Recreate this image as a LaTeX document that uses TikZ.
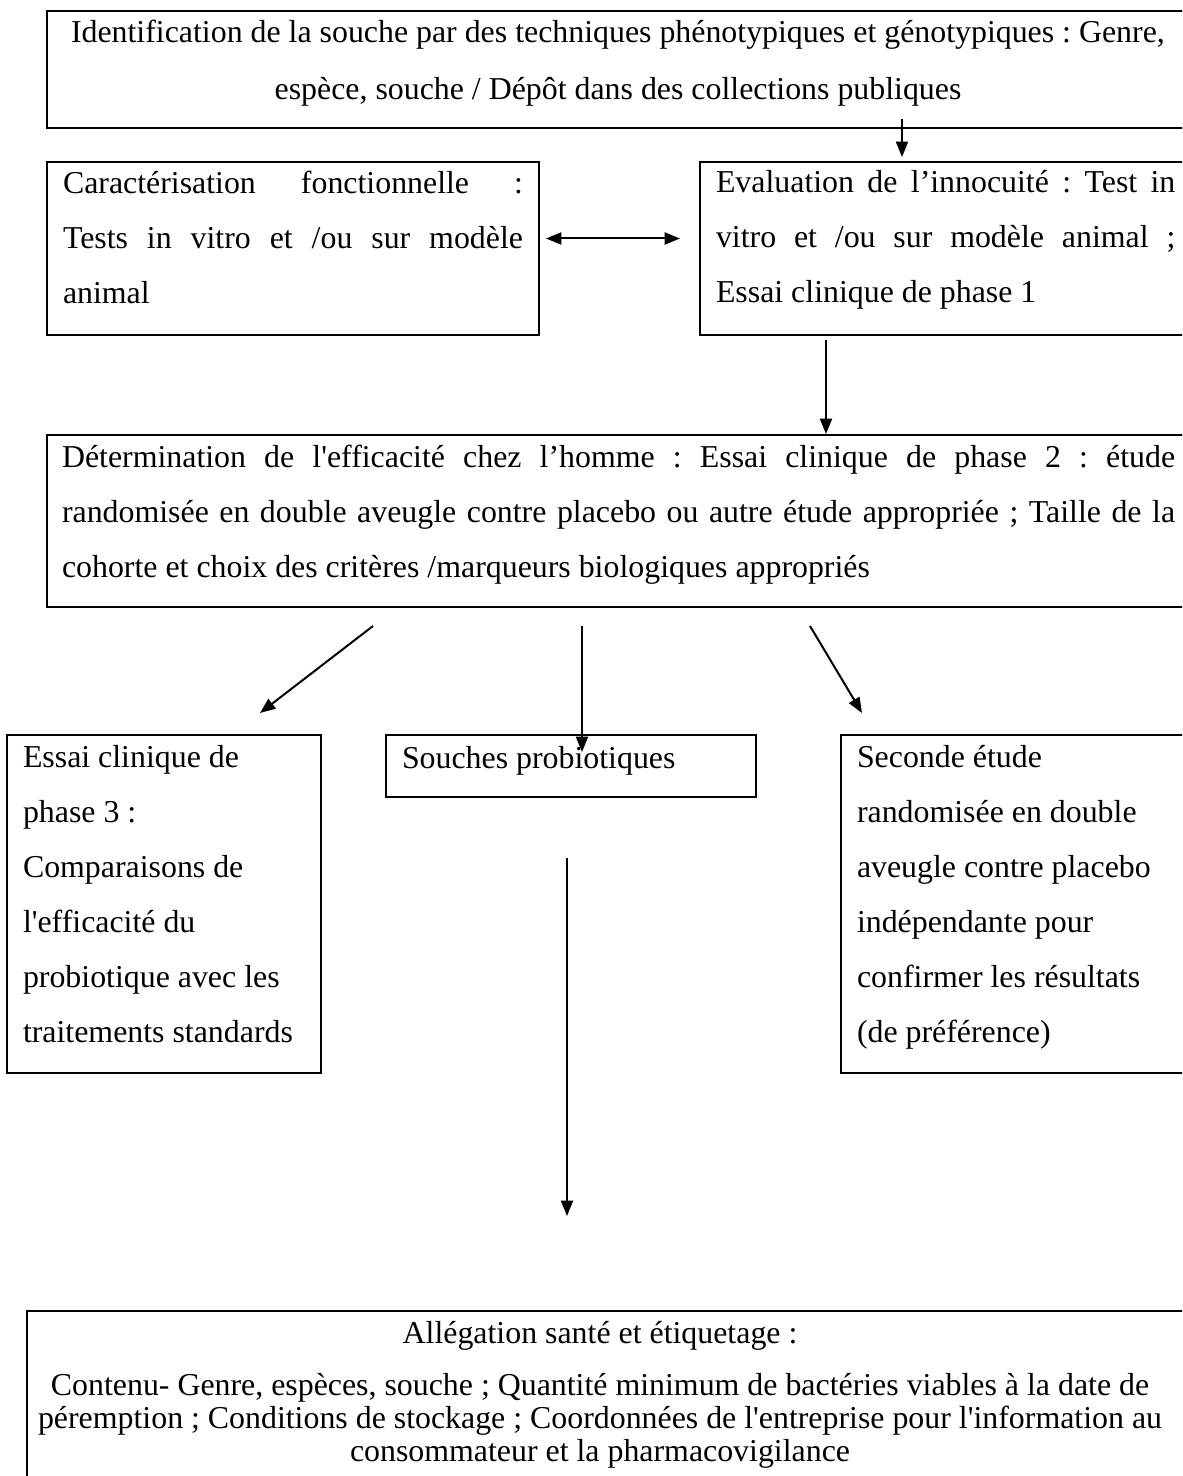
\documentclass[tikz,border=0pt]{standalone}
\usepackage{fontspec}
\setmainfont{Liberation Serif}[Ligatures=TeXOff]
\usetikzlibrary{arrows.meta}
\frenchspacing
\newcommand\fdbl{\fontsize{23.9pt}{41.25pt}\selectfont\frenchspacing}
\newcommand\fid{\fontsize{23.9pt}{42.75pt}\selectfont\frenchspacing}
\newcommand\fsgl{\fontsize{23.9pt}{24.75pt}\selectfont\frenchspacing}
\newcommand\jline[1]{\makebox[\linewidth][s]{#1}}
\tikzset{
  boxnode/.style 2 args={draw, line width=1.6pt, outer sep=0pt, inner sep=0pt, anchor=north west,
     minimum width=#1*0.75pt, minimum height=#2*0.75pt},
  txt/.style={inner sep=0pt, outer sep=0pt, anchor=base west, font=\fdbl},
  arr/.style={line width=1.5pt, -{Triangle[length=11.5pt,width=9pt]}},
  dblarr/.style={line width=1.5pt, {Triangle[length=11.5pt,width=9pt]}-{Triangle[length=11.5pt,width=9pt]}}
}
\begin{document}
\begin{tikzpicture}[x=0.75pt,y=-0.75pt]
\clip (0,0) rectangle (1182,1476);
\fill[white] (0,0) rectangle (1182,1476);

% boxes
\node[boxnode={1153}{117}] (id) at (47,11) {};
\node[boxnode={492}{173}] (car) at (47,162) {};
\node[boxnode={500}{173}] (eva) at (700,162) {};
\node[boxnode={1153}{172}] (det) at (47,435) {};
\node[boxnode={314}{338}] (ess) at (7,735) {};
\node[boxnode={370}{62}] (sou) at (386,735) {};
\node[boxnode={359}{338}] (sec) at (841,735) {};
\node[boxnode={1173}{189}] (all) at (27,1311) {};

% texts
\node[txt, font=\fid] (idt) at (71,43) {\parbox[t]{900pt}{Identification de la souche par des techniques phénotypiques et génotypiques : Genre,\\
\hspace*{410.25pt}\makebox[0pt][c]{espèce, souche / Dépôt dans des collections publiques}}};

\node[txt] (cart) at (63,194) {\parbox[t]{345pt}{\jline{Caractérisation fonctionnelle :}\\
\jline{Tests in vitro et /ou sur modèle}\\
animal}};

\node[txt] (evat) at (716,193) {\parbox[t]{344.5pt}{\jline{Evaluation de l’innocuité : Test in}\\
\jline{vitro et /ou sur modèle animal ;}\\
Essai clinique de phase 1}};

\node[txt] (dett) at (62,467) {\parbox[t]{834.75pt}{\jline{Détermination de l'efficacité chez l’homme : Essai clinique de phase 2 : étude}\\
\jline{randomisée en double aveugle contre placebo ou autre étude appropriée ; Taille de la}\\
cohorte et choix des critères /marqueurs biologiques appropriés}};

\node[txt] (esst) at (23,767) {\parbox[t]{235pt}{Essai clinique de\\
phase 3 :\\
Comparaisons de\\
l'efficacité du\\
probiotique avec les\\
traitements standards}};

\node[txt] (sout) at (402,768) {Souches probiotiques};

\node[txt] (sect) at (857,767) {\parbox[t]{250pt}{Seconde étude\\
randomisée en double\\
aveugle contre placebo\\
indépendante pour\\
confirmer les résultats\\
(de préférence)}};

\node[txt, anchor=base, font=\fsgl] (allt) at (600,1343) {\parbox[t]{880pt}{\centering Allégation santé et étiquetage :\\[14.25pt]
Contenu- Genre, espèces, souche ; Quantité minimum de bactéries viables à la date de\\
péremption ; Conditions de stockage ; Coordonnées de l'entreprise pour l'information au\\
consommateur et la pharmacovigilance}};

% connectors
\draw[arr] ([shift={(855,-9)}]id.south west) -- ([shift={(202,-5)}]eva.north west);
\draw[dblarr] ([shift={(7,-10)}]car.east) -- ([shift={(-20,-10)}]eva.west);
\draw[arr] ([shift={(126,5)}]eva.south west) -- ([shift={(779,-1)}]det.north west);
\draw[arr] ([shift={(326,19)}]det.south west) -- ([shift={(253,-22)}]ess.north west);
\draw[arr] ([shift={(535,19)}]det.south west) -- ([shift={(196,17)}]sou.north west);
\draw[arr] ([shift={(763,19)}]det.south west) -- ([shift={(21,-22)}]sec.north west);
\draw[arr] ([shift={(181,61)}]sou.south west) -- ([shift={(540,-95)}]all.north west);
\end{tikzpicture}
\end{document}
